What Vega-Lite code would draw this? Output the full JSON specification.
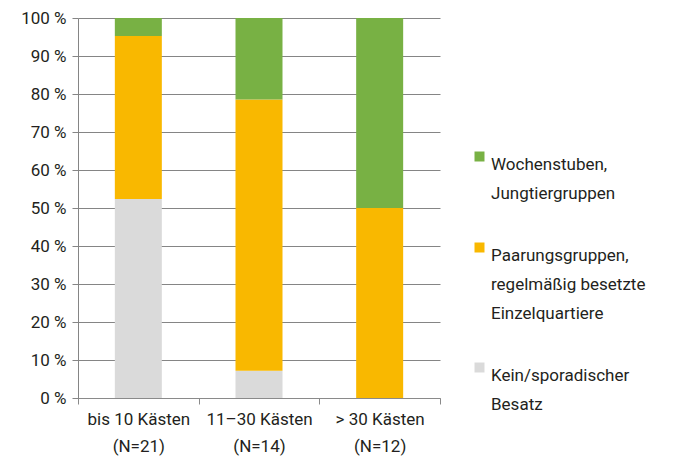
{
  "$schema": "https://vega.github.io/schema/vega-lite/v6.json",
  "width": 362,
  "height": 380,
  "autosize": "none",
  "padding": {"left": 78, "top": 18, "right": 246, "bottom": 63},
  "background": "white",
  "config": {
    "font": "Roboto",
    "view": {"stroke": null},
    "axis": {"labelColor": "#231f20", "labelFontSize": 17, "labelFont": "Roboto"}
  },
  "data": {
    "values": [
      {"group": "bis 10 Kästen (N=21)", "cat": "Kein/sporadischer Besatz", "n": 11, "o": 0},
      {"group": "bis 10 Kästen (N=21)", "cat": "Paarungsgruppen, regelmäßig besetzte Einzelquartiere", "n": 9, "o": 1},
      {"group": "bis 10 Kästen (N=21)", "cat": "Wochenstuben, Jungtiergruppen", "n": 1, "o": 2},
      {"group": "11–30 Kästen (N=14)", "cat": "Kein/sporadischer Besatz", "n": 1, "o": 0},
      {"group": "11–30 Kästen (N=14)", "cat": "Paarungsgruppen, regelmäßig besetzte Einzelquartiere", "n": 10, "o": 1},
      {"group": "11–30 Kästen (N=14)", "cat": "Wochenstuben, Jungtiergruppen", "n": 3, "o": 2},
      {"group": "> 30 Kästen (N=12)", "cat": "Kein/sporadischer Besatz", "n": 0, "o": 0},
      {"group": "> 30 Kästen (N=12)", "cat": "Paarungsgruppen, regelmäßig besetzte Einzelquartiere", "n": 6, "o": 1},
      {"group": "> 30 Kästen (N=12)", "cat": "Wochenstuben, Jungtiergruppen", "n": 6, "o": 2}
    ]
  },
  "mark": {"type": "bar", "size": 47},
  "encoding": {
    "x": {
      "field": "group",
      "type": "nominal",
      "sort": null,
      "scale": {"paddingInner": 0, "paddingOuter": 0},
      "axis": {
        "title": null,
        "labelAngle": 0,
        "tickBand": "extent",
        "tickSize": 6,
        "tickColor": "#8a8a8a",
        "domainColor": "#8a8a8a",
        "labelPadding": 7,
        "labelLineHeight": 27,
        "labelExpr": "[slice(datum.label, 0, indexof(datum.label, ' (')), slice(datum.label, indexof(datum.label, ' (') + 1)]"
      }
    },
    "y": {
      "field": "n",
      "type": "quantitative",
      "stack": "normalize",
      "scale": {"domain": [0, 1]},
      "axis": {
        "title": null,
        "values": [0, 0.1, 0.2, 0.3, 0.4, 0.5, 0.6, 0.7, 0.8, 0.9, 1],
        "labelExpr": "round(datum.value * 100) + ' %'",
        "grid": true,
        "gridColor": "#858585",
        "gridOpacity": 1,
        "tickColor": "#858585",
        "tickSize": 6,
        "domainColor": "#858585",
        "labelPadding": 6
      }
    },
    "color": {
      "field": "cat",
      "type": "nominal",
      "scale": {
        "domain": ["Wochenstuben, Jungtiergruppen", "Paarungsgruppen, regelmäßig besetzte Einzelquartiere", "Kein/sporadischer Besatz"],
        "range": ["#78b144", "#f9b800", "#dadada"]
      },
      "legend": {
        "title": null,
        "orient": "none",
        "legendX": 393,
        "legendY": 130,
        "symbolType": "square",
        "symbolSize": 100,
        "symbolStrokeWidth": 0,
        "labelFontSize": 17,
        "labelColor": "#231f20",
        "labelFont": "Roboto",
        "labelOffset": 3,
        "labelLimit": 300,
        "rowPadding": 37,
        "labelBaseline": "top",
        "labelExpr": "datum.value == 'Wochenstuben, Jungtiergruppen' ? ['Wochenstuben,', 'Jungtiergruppen'] : datum.value == 'Kein/sporadischer Besatz' ? ['Kein/sporadischer', 'Besatz'] : ['Paarungsgruppen,', 'regelmäßig besetzte', 'Einzelquartiere']",
        "encode": {"labels": {"update": {"lineHeight": {"value": 29}}}}
      }
    },
    "order": {"field": "o", "type": "quantitative"}
  }
}
